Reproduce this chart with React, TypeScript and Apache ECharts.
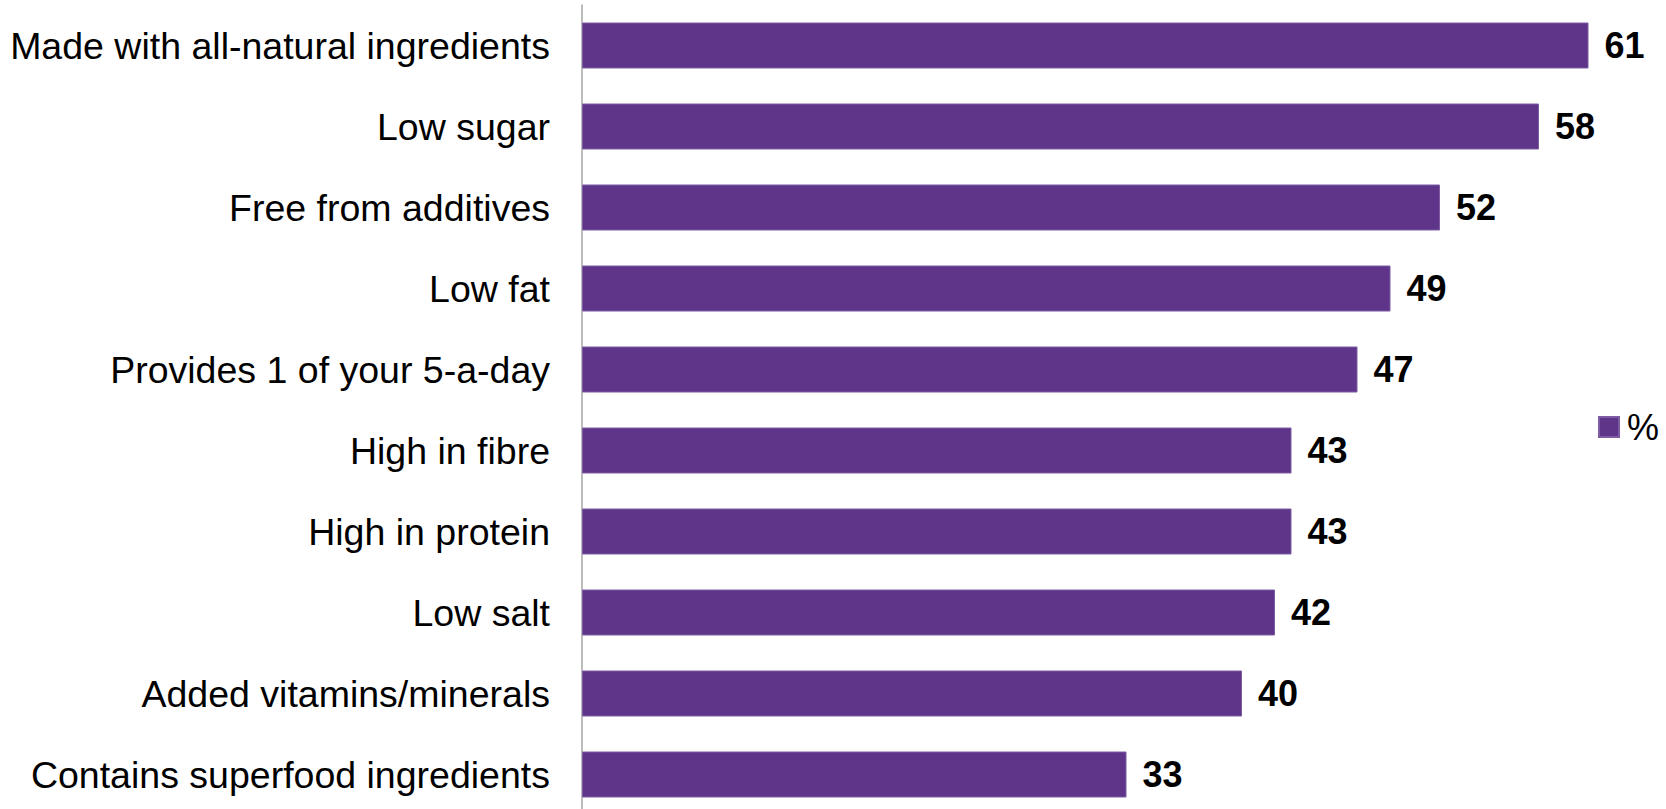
import React, { useEffect, useRef } from "react";
import * as echarts from "echarts";

// Share of respondents (%) rating each product claim
const categories: string[] = [
  "Made with all-natural ingredients",
  "Low sugar",
  "Free from additives",
  "Low fat",
  "Provides 1 of your 5-a-day",
  "High in fibre",
  "High in protein",
  "Low salt",
  "Added vitamins/minerals",
  "Contains superfood ingredients",
];
const percentValues: number[] = [61, 58, 52, 49, 47, 43, 43, 42, 40, 33];
const seriesName = "%";

const BAR_COLOR = "#5f3589";
const FONT = "'Liberation Sans', Arial, Helvetica, sans-serif";

export default function App() {
  const ref = useRef<HTMLDivElement>(null);

  useEffect(() => {
    if (!ref.current) return;
    const chart = echarts.init(ref.current, undefined, { renderer: "svg" });
    chart.setOption({
      animation: false,
      backgroundColor: "#ffffff",
      textStyle: { fontFamily: FONT },
      // plot area runs slightly past the visible frame at the bottom
      grid: { left: 582, top: 5, width: 1056, height: 810, containLabel: false },
      legend: {
        data: [seriesName],
        orient: "vertical",
        left: 1593,
        top: 404,
        itemWidth: 20,
        itemHeight: 20,
        icon: "rect",
        textStyle: {
          fontSize: 36,
          color: "#000000",
          fontFamily: FONT,
          padding: [0, 0, 0, 3],
        },
      },
      xAxis: {
        type: "value",
        min: 0,
        max: 64,
        show: false,
        splitLine: { show: false },
      },
      yAxis: {
        type: "category",
        data: categories,
        inverse: true,
        axisLine: { show: true, lineStyle: { color: "#a6a6a6", width: 1.5 } },
        axisTick: { show: false },
        axisLabel: {
          fontSize: 37.5,
          color: "#000000",
          fontFamily: FONT,
          margin: 32,
        },
      },
      series: [
        {
          name: seriesName,
          type: "bar",
          data: percentValues,
          barWidth: 46,
          itemStyle: { color: BAR_COLOR, borderColor: "#7d5ca3", borderWidth: 1 },
          label: {
            show: true,
            position: "right",
            distance: 16,
            fontSize: 36,
            fontWeight: "bold",
            color: "#000000",
            fontFamily: FONT,
          },
        },
      ],
    });
    return () => chart.dispose();
  }, []);

  return (
    <div
      style={{
        position: "absolute",
        left: 0,
        top: 0,
        width: 1666,
        height: 809,
        overflow: "hidden",
      }}
    >
      <div ref={ref} style={{ width: 1666, height: 830 }} />
    </div>
  );
}
